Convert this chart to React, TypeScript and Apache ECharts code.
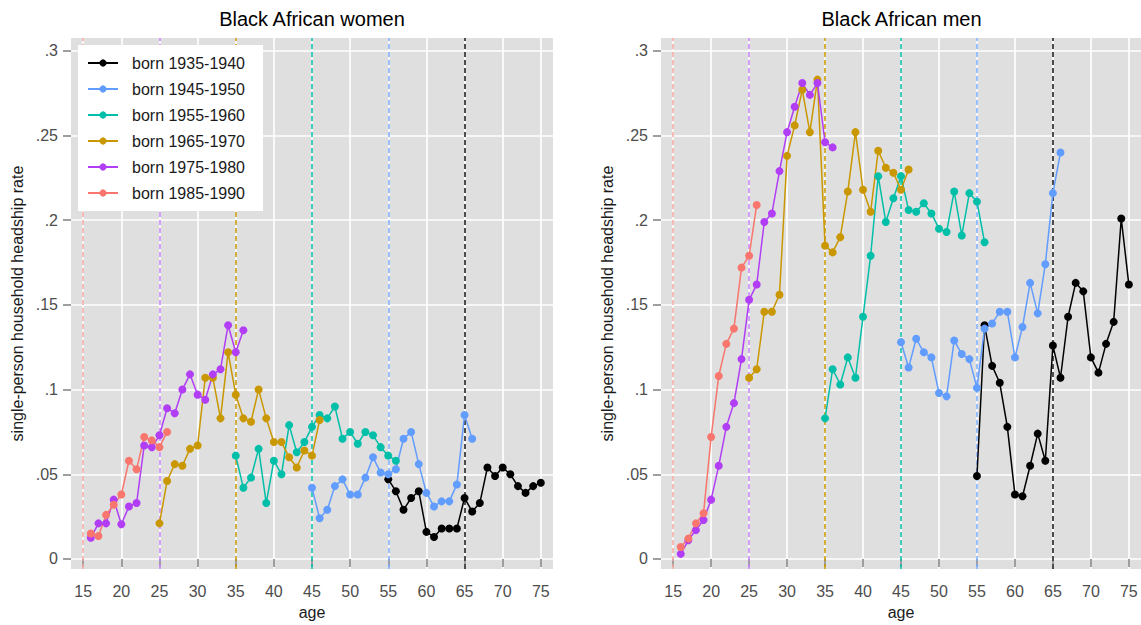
import React, { useEffect, useRef } from "react";
import * as echarts from "echarts";

const AGE_TICKS = [15, 20, 25, 30, 35, 40, 45, 50, 55, 60, 65, 70, 75];
const RATE_TICKS = [0, 0.05, 0.1, 0.15, 0.2, 0.25, 0.3];
const COHORTS = [
  "born 1935-1940",
  "born 1945-1950",
  "born 1955-1960",
  "born 1965-1970",
  "born 1975-1980",
  "born 1985-1990",
];
const COLORS = ["#000000", "#619CFF", "#00BFA8", "#C99700", "#B13EF5", "#F8766D"];
const START_AGES = [55, 45, 35, 25, 16, 16];
const PANEL_TITLES = ["Black African women", "Black African men"];
const VLINE_AGES = [15, 25, 35, 45, 55, 65];
const VLINE_COLORS = ["#F7A29C", "#C77DFB", "#C99700", "#00BFA8", "#7AA9FF", "#4D4D4D"];

// Women
const women1935 = [0.047, 0.040, 0.029, 0.036, 0.040, 0.016, 0.013, 0.018, 0.018, 0.018, 0.036, 0.028, 0.033, 0.054, 0.049, 0.054, 0.050, 0.043, 0.039, 0.043, 0.045];
const women1945 = [0.042, 0.024, 0.029, 0.043, 0.047, 0.038, 0.038, 0.048, 0.060, 0.051, 0.050, 0.053, 0.071, 0.075, 0.056, 0.039, 0.031, 0.034, 0.034, 0.044, 0.085, 0.071];
const women1955 = [0.061, 0.042, 0.048, 0.065, 0.033, 0.058, 0.050, 0.079, 0.063, 0.069, 0.078, 0.085, 0.083, 0.090, 0.071, 0.075, 0.068, 0.075, 0.073, 0.066, 0.061, 0.058];
const women1965 = [0.021, 0.046, 0.056, 0.055, 0.065, 0.067, 0.107, 0.107, 0.083, 0.122, 0.097, 0.083, 0.081, 0.100, 0.083, 0.069, 0.069, 0.060, 0.054, 0.064, 0.061, 0.082];
const women1975 = [0.0125, 0.021, 0.021, 0.035, 0.0205, 0.031, 0.033, 0.067, 0.066, 0.073, 0.089, 0.086, 0.100, 0.109, 0.097, 0.094, 0.109, 0.112, 0.138, 0.122, 0.135];
const women1985 = [0.015, 0.0135, 0.026, 0.032, 0.038, 0.058, 0.053, 0.072, 0.070, 0.066, 0.075];

// Men
const men1935 = [0.049, 0.138, 0.114, 0.104, 0.078, 0.038, 0.037, 0.055, 0.074, 0.058, 0.126, 0.107, 0.143, 0.163, 0.158, 0.119, 0.110, 0.127, 0.140, 0.201, 0.162];
const men1945 = [0.128, 0.113, 0.130, 0.122, 0.119, 0.098, 0.096, 0.129, 0.121, 0.118, 0.101, 0.136, 0.139, 0.146, 0.146, 0.119, 0.137, 0.163, 0.145, 0.174, 0.216, 0.240];
const men1955 = [0.083, 0.112, 0.103, 0.119, 0.107, 0.143, 0.179, 0.226, 0.199, 0.213, 0.226, 0.206, 0.205, 0.210, 0.204, 0.195, 0.193, 0.217, 0.191, 0.216, 0.211, 0.187];
const men1965 = [0.107, 0.112, 0.146, 0.146, 0.156, 0.238, 0.256, 0.277, 0.252, 0.283, 0.185, 0.181, 0.190, 0.217, 0.252, 0.218, 0.205, 0.241, 0.231, 0.228, 0.218, 0.230];
const men1975 = [0.003, 0.011, 0.017, 0.023, 0.035, 0.055, 0.078, 0.092, 0.118, 0.153, 0.162, 0.199, 0.204, 0.229, 0.252, 0.267, 0.281, 0.274, 0.281, 0.246, 0.243];
const men1985 = [0.007, 0.012, 0.021, 0.027, 0.072, 0.108, 0.127, 0.136, 0.172, 0.179, 0.209];

const PANELS = [
  [women1935, women1945, women1955, women1965, women1975, women1985],
  [men1935, men1945, men1955, men1965, men1975, men1985],
];

const FONT = "'Liberation Sans', Arial, sans-serif";
const GRID_LEFTS = [71, 661];
const GRID_WIDTHS = [482, 481];

function pairs(start: number, vals: number[]) {
  return vals.map((v, i) => [start + i, v]);
}

function fmtRate(v: number) {
  if (Math.abs(v) < 1e-9) return "0";
  return String(+v.toFixed(2)).replace(/^0/, "");
}

export default function App() {
  const ref = useRef<HTMLDivElement>(null);
  useEffect(() => {
    if (!ref.current) return;
    const chart = echarts.init(ref.current, undefined, { renderer: "svg" });

    const grids = GRID_LEFTS.map((l, i) => ({
      left: l,
      top: 38,
      width: GRID_WIDTHS[i],
      height: 537,
      show: true,
      backgroundColor: "#DFDFDF",
      borderWidth: 0,
    }));

    const xAxes = [0, 1].map((p) => ({
      type: "value",
      gridIndex: p,
      min: 13.4,
      max: 76.6,
      name: "age",
      nameLocation: "middle",
      nameGap: 32,
      nameTextStyle: { fontSize: 16, color: "#1a1a1a", fontFamily: FONT },
      axisLine: { show: false },
      axisTick: { show: true, length: 8, customValues: AGE_TICKS, lineStyle: { color: "#7f7f7f", width: 1.5 } },
      axisLabel: { customValues: AGE_TICKS, fontSize: 16, color: "#4d4d4d", margin: 14, fontFamily: FONT },
      splitLine: { show: true, lineStyle: { color: "#ffffff", width: 1.6 } },
    }));

    const yAxes = [0, 1].map((p) => ({
      type: "value",
      gridIndex: p,
      min: -0.006,
      max: 0.3076,
      name: "single-person household headship rate",
      nameLocation: "middle",
      nameGap: 46,
      nameTextStyle: { fontSize: 16, color: "#1a1a1a", fontFamily: FONT },
      axisLine: { show: false },
      axisTick: { show: true, length: 8, customValues: RATE_TICKS, lineStyle: { color: "#7f7f7f", width: 1.5 } },
      axisLabel: { customValues: RATE_TICKS, fontSize: 16, color: "#4d4d4d", margin: 13, fontFamily: FONT, formatter: fmtRate },
      splitLine: { show: true, lineStyle: { color: "#ffffff", width: 1.6 } },
    }));

    const series: any[] = [];
    [0, 1].forEach((p) => {
      series.push({
        type: "line",
        xAxisIndex: p,
        yAxisIndex: p,
        data: [],
        silent: true,
        z: 1,
        markLine: {
          silent: true,
          z: 1,
          symbol: ["none", "none"],
          label: { show: false },
          animation: false,
          data: VLINE_AGES.map((a, i) => ({
            xAxis: a,
            lineStyle: { color: VLINE_COLORS[i], type: [5, 3], width: i === 5 ? 2 : 1.5 },
          })),
        },
      });
      PANELS[p].forEach((vals, k) => {
        series.push({
          type: "line",
          name: COHORTS[k],
          xAxisIndex: p,
          yAxisIndex: p,
          z: 3,
          data: pairs(START_AGES[k], vals),
          symbol: "circle",
          symbolSize: 8,
          showSymbol: true,
          color: COLORS[k],
          lineStyle: { color: COLORS[k], width: 1.5 },
          itemStyle: { color: COLORS[k] },
          emphasis: { disabled: true },
        });
      });
    });

    chart.setOption({
      animation: false,
      textStyle: { fontFamily: FONT },
      title: PANEL_TITLES.map((t, i) => ({
        text: t,
        left: GRID_LEFTS[i] + GRID_WIDTHS[i] / 2,
        top: 9,
        padding: 0,
        textAlign: "center",
        textStyle: { fontSize: 20, fontWeight: "normal", color: "#000", fontFamily: FONT },
      })),
      legend: {
        data: COHORTS,
        orient: "vertical",
        left: 78,
        top: 45,
        backgroundColor: "#ffffff",
        padding: [10, 18, 10, 9],
        itemWidth: 30,
        itemHeight: 9,
        itemGap: 10,
        selectedMode: false,
        textStyle: { fontSize: 16, color: "#1a1a1a", fontFamily: FONT, padding: [0, 0, 0, 9] },
      },
      grid: grids,
      xAxis: xAxes,
      yAxis: yAxes,
      series,
    });

    return () => chart.dispose();
  }, []);

  return (
    <div
      ref={ref}
      style={{ position: "fixed", left: 0, top: 0, width: 1141, height: 625, background: "#fff" }}
    />
  );
}
